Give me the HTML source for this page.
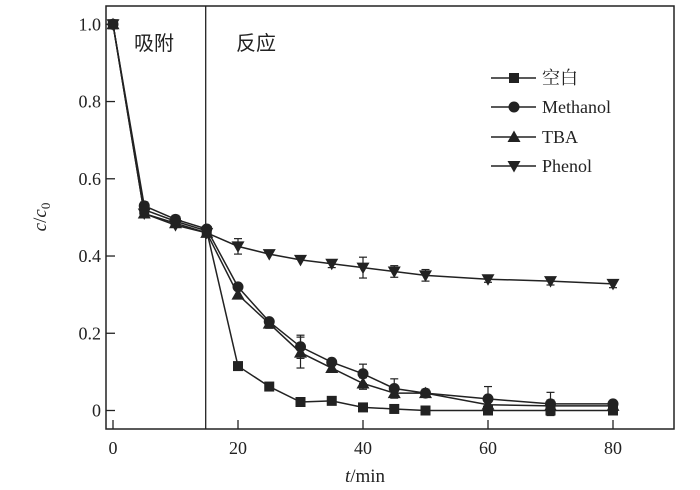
<!DOCTYPE html>
<html><head><meta charset="utf-8"><style>
html,body{margin:0;padding:0;background:#fff;}
svg{display:block;font-family:"Liberation Serif","Noto Serif CJK SC",serif;}
</style></head><body>
<svg id="s" width="700" height="490" viewBox="0 0 700 490" xmlns="http://www.w3.org/2000/svg">
<rect x="106" y="6" width="568" height="423" fill="none" stroke="#222" stroke-width="1.5"/>
<line x1="205.7" y1="6" x2="205.7" y2="429" stroke="#222" stroke-width="1.3"/>
<text x="134" y="50" font-size="20" font-family="'Noto Sans CJK SC',sans-serif" fill="#222">吸附</text>
<text x="236" y="50" font-size="20" font-family="'Noto Sans CJK SC',sans-serif" fill="#222">反应</text>
<g id="ax" fill="#222" font-size="18"></g>
<text x="365" y="482" font-size="19" text-anchor="middle" fill="#222"><tspan font-style="italic">t</tspan>/min</text>
<text transform="translate(46,217) rotate(-90)" font-size="19" text-anchor="middle" fill="#222"><tspan font-style="italic">c</tspan>/<tspan font-style="italic">c</tspan><tspan font-size="13" dy="4">0</tspan></text>
<g id="d"></g>
<g id="lg" font-size="18" fill="#222"></g>
</svg>
<script>
const X=t=>113+t*6.25, Y=v=>410.5-v*386.2;
const ns="http://www.w3.org/2000/svg";
function el(p,tag,a,txt){const e=document.createElementNS(ns,tag);for(const k in a)e.setAttribute(k,a[k]);if(txt!=null)e.textContent=txt;p.appendChild(e);return e;}
const ax=document.getElementById('ax');
[0,0.2,0.4,0.6,0.8,1.0].forEach(v=>{el(ax,'line',{x1:106,x2:115,y1:Y(v),y2:Y(v),stroke:'#222','stroke-width':1.3});
el(ax,'text',{x:101,y:Y(v)+6,'text-anchor':'end'},v===0?'0':v.toFixed(1));});
[0,20,40,60,80].forEach(t=>{el(ax,'line',{x1:X(t),x2:X(t),y1:429,y2:420,stroke:'#222','stroke-width':1.3});
el(ax,'text',{x:X(t),y:454,'text-anchor':'middle'},String(t));});
const T=[0,5,10,15,20,25,30,35,40,45,50,60,70,80];
const S=[
{m:'sq',v:[1,0.52,0.49,0.465,0.115,0.062,0.022,0.025,0.008,0.004,0,0,0,0],e:{}},
{m:'ci',v:[1,0.53,0.495,0.47,0.32,0.23,0.165,0.125,0.095,0.057,0.045,0.03,0.017,0.017],e:{30:0.03,40:0.025,45:0.025,50:0.01,60:0.032,70:0.03,5:0.01,10:0.01}},
{m:'up',v:[1,0.51,0.485,0.46,0.30,0.225,0.15,0.11,0.07,0.045,0.045,0.015,0.012,0.012],e:{30:0.04,40:0.015,70:0.015,25:0.012}},
{m:'dn',v:[1,0.51,0.48,0.46,0.425,0.405,0.39,0.38,0.37,0.36,0.35,0.34,0.335,0.328],e:{20:0.02,35:0.01,40:0.027,45:0.015,50:0.015,60:0.008,70:0.01,80:0.01}}];
const d=document.getElementById('d');
function mk(g,m,x,y){
 if(m==='sq')el(g,'rect',{x:x-5,y:y-5,width:10,height:10,fill:'#222'});
 else if(m==='ci')el(g,'circle',{cx:x,cy:y,r:5.5,fill:'#222'});
 else if(m==='up')el(g,'polygon',{points:`${x},${y-6.5} ${x-6.5},${y+5} ${x+6.5},${y+5}`,fill:'#222'});
 else el(g,'polygon',{points:`${x},${y+6.5} ${x-6.5},${y-5} ${x+6.5},${y-5}`,fill:'#222'});
}
S.forEach(s=>{
 el(d,'polyline',{points:T.map((t,i)=>X(t)+','+Y(s.v[i])).join(' '),fill:'none',stroke:'#222','stroke-width':1.5});
 T.forEach((t,i)=>{const e=s.e[t];if(e){const x=X(t);const y1=Y(s.v[i]+e),y2=Y(s.v[i]-e);
  el(d,'line',{x1:x,x2:x,y1:y1,y2:y2,stroke:'#222','stroke-width':1.2});
  el(d,'line',{x1:x-4,x2:x+4,y1:y1,y2:y1,stroke:'#222','stroke-width':1.2});
  el(d,'line',{x1:x-4,x2:x+4,y1:y2,y2:y2,stroke:'#222','stroke-width':1.2});}});
 T.forEach((t,i)=>mk(d,s.m,X(t),Y(s.v[i])));
});
const lg=document.getElementById('lg');
const names=['空白','Methanol','TBA','Phenol'];
[78,107,137,166].forEach((y,i)=>{
 el(lg,'line',{x1:491,x2:536,y1:y,y2:y,stroke:'#222','stroke-width':1.5});
 mk(lg,S[i].m,514,y);
 const t=el(lg,'text',{x:542,y:y+6},names[i]);
 if(i===0)t.setAttribute('font-family',"'Noto Serif CJK SC','Noto Sans CJK SC',serif");
});
</script>
</body></html>
